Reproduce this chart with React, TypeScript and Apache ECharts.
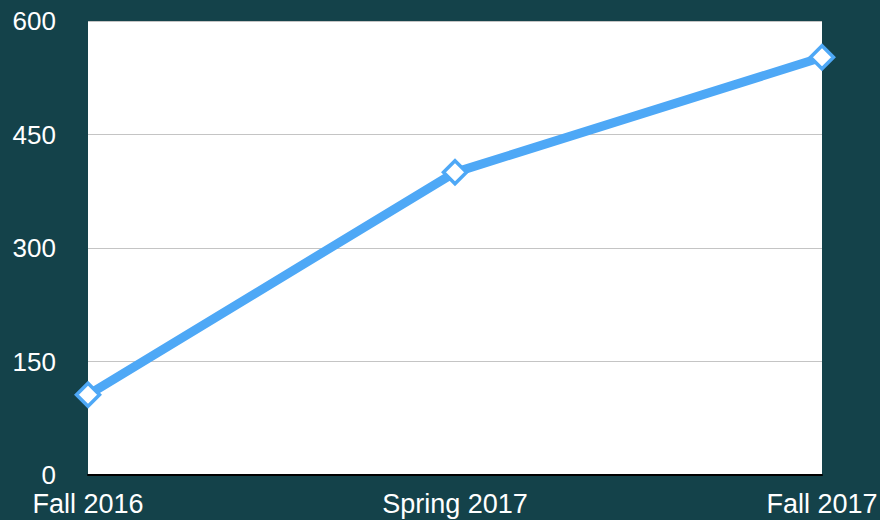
import React, { useEffect, useRef } from "react";
import * as echarts from "echarts";

const categories = ["Fall 2016", "Spring 2017", "Fall 2017"];
const values = [106, 400, 552];
const yTicks = [0, 150, 300, 450, 600];

export default function App() {
  const ref = useRef<HTMLDivElement>(null);
  useEffect(() => {
    document.body.style.margin = "0";
    const chart = echarts.init(ref.current!, null, { renderer: "svg" });
    const font = "'Liberation Sans', Arial, Helvetica, sans-serif";
    chart.setOption({
      animation: false,
      backgroundColor: "#14424a",
      grid: {
        left: 88,
        right: 58,
        top: 21,
        bottom: 45,
        show: true,
        backgroundColor: "#ffffff",
        borderWidth: 0,
        containLabel: false,
        outerBoundsMode: "none",
      },
      xAxis: {
        type: "category",
        data: categories,
        boundaryGap: false,
        axisLine: { show: true, lineStyle: { color: "#000000", width: 2 } },
        axisTick: { show: false },
        splitLine: { show: false },
        axisLabel: {
          color: "#ffffff",
          fontSize: 27,
          fontFamily: font,
          margin: 15,
        },
      },
      yAxis: {
        type: "value",
        min: yTicks[0],
        max: yTicks[yTicks.length - 1],
        interval: yTicks[1] - yTicks[0],
        axisLine: { show: false },
        axisTick: { show: false },
        splitLine: { show: true, lineStyle: { color: "#c4c4c4", width: 1 } },
        axisLabel: {
          color: "#ffffff",
          fontSize: 26,
          fontFamily: font,
          margin: 32,
          padding: [6, 0, 0, 0],
        },
      },
      series: [
        {
          type: "line",
          data: values,
          clip: false,
          symbol: "diamond",
          symbolSize: 23,
          lineStyle: { color: "#4ea8f6", width: 9 },
          itemStyle: { color: "#ffffff", borderColor: "#4ea8f6", borderWidth: 3.5 },
          z: 3,
        },
      ],
    });
    return () => chart.dispose();
  }, []);
  return <div ref={ref} style={{ width: 880, height: 520 }} />;
}
